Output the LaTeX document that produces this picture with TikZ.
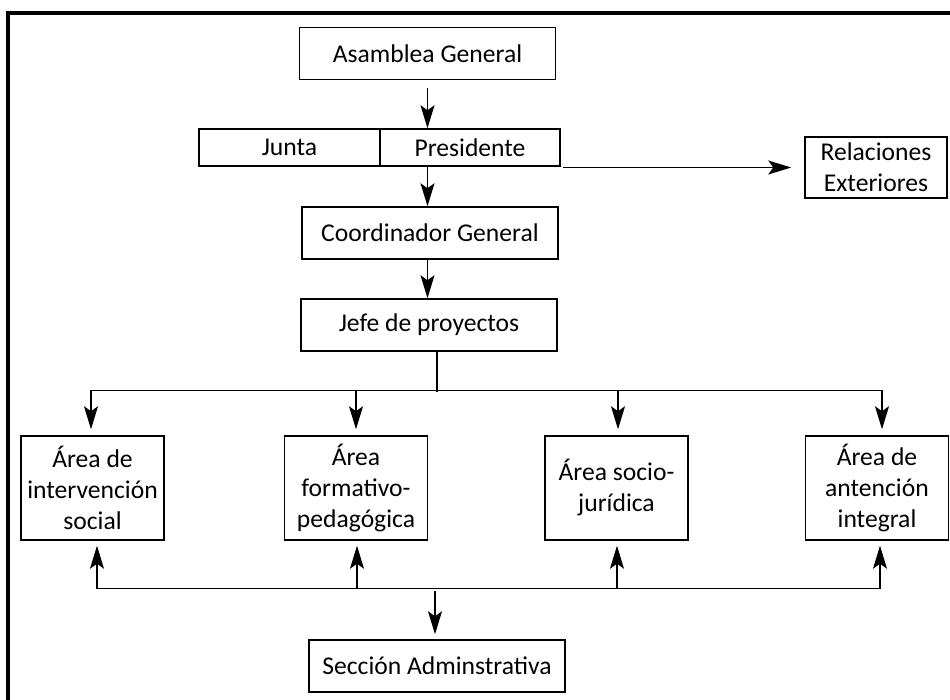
\documentclass[tikz,border=0pt]{standalone}
\usepackage{fontspec}
\setmainfont{Carlito}
\usetikzlibrary{arrows.meta, calc}

\tikzset{
	box/.style={draw, line width=0.75pt, align=center, inner sep=1pt, minimum width=128pt, minimum height=26pt},
	areabox/.style={box, minimum width=71.5pt, minimum height=52pt},
	wire/.style={line width=0.6pt},
	link/.style={wire, -{Stealth[length=11.5pt, width=7pt, inset=2.5pt]}},
}

\begin{document}
\begin{tikzpicture}[x=0.5pt, y=-0.5pt, font=\fontsize{12.8}{15.5}\selectfont]
	\def\rowY{488}
	\def\drop{45}
	\def\rise{48}

	\useasboundingbox (0,0) rectangle (950,700);
	\draw[line width=1.6pt]	(8,702) -- (8,13) -- (952,13);

	\node[box]	(asamblea)	at (427.5,53.5)	{Asamblea General};
	\node[box, minimum width=90.5pt, minimum height=18.5pt]	(junta)	at (289.5,147.5)	{Junta};
	\node[box, minimum width=90pt, minimum height=18.5pt]	(presidente)	at (470,147.5)	{Presidente};
	\node[box, minimum width=71pt, minimum height=30.5pt]	(relaciones)	at (876,167.5)	{Relaciones\\Exteriores};
	\node[box]	(coordinador)	at (430,233)	{Coordinador General};
	\node[box]	(jefe)	at (429,325)	{Jefe de proyectos};

	\node[areabox]	(areaA)	at (92.5,\rowY)	{Área de\\intervención\\social};
	\node[areabox]	(areaB)	at (356,\rowY)	{Área\\formativo-\\pedagógica};
	\node[areabox]	(areaC)	at (616.5,\rowY)	{Área socio-\\jurídica};
	\node[areabox]	(areaD)	at (877,\rowY)	{Área de\\antención\\integral};

	\node[box]	(seccion)	at (437,666)	{Sección Adminstrativa};

	\coordinate (relin)	at ($(relaciones.west)+(-13,0)$);
	\coordinate (split)	at ($(jefe.south)+(8,40)$);
	\coordinate (merge)	at ($(seccion.north)+(-2,-52)$);

	\draw[link]	($(asamblea.south)+(0,8)$) -- (asamblea.south |- presidente.north);
	\draw[link]	(asamblea.south |- presidente.south) -- (asamblea.south |- coordinador.north);
	\draw[link]	($(relin -| presidente.east)+(2,0)$) -- (relin);
	\draw[link]	(asamblea.south |- coordinador.south) -- (asamblea.south |- jefe.north);

	\draw[wire]	(jefe.south -| split) -- (split);
	\draw[wire]	($(areaA.north)+(-1.5,-\drop)$) -- ($(areaD.north)+(5,-\drop)$);
	\foreach \n/\d in {areaA/-1.5, areaB/0, areaC/1.5, areaD/5}
		\draw[link]	($(\n.north)+(\d,-\drop)$) -- ($(\n.north)+(\d,-6)$);

	\draw[wire]	($(areaA.south)+(4.5,\rise)$) -- ($(areaD.south)+(3,\rise)$);
	\foreach \n/\d in {areaA/4.5, areaB/1, areaC/0.5, areaD/3}
		\draw[link]	($(\n.south)+(\d,\rise)$) -- ($(\n.south)+(\d,5)$);
	\draw[link]	($(merge)+(0,4)$) -- ($(seccion.north)+(-2,-5)$);
\end{tikzpicture}
\end{document}
